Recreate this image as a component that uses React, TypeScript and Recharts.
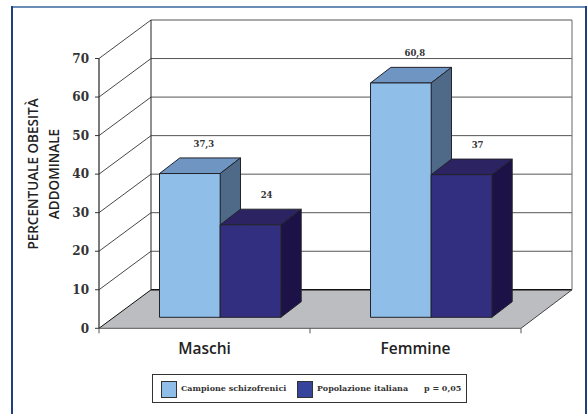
import { BarChart, Bar, XAxis, YAxis, CartesianGrid, LabelList } from 'recharts';

const categories = ['Maschi', 'Femmine'];
const campione = [37.3, 60.8];
const popolazione = [24, 37];
const yTicks = [0, 10, 20, 30, 40, 50, 60, 70];
const seriesNames = ['Campione schizofrenici', 'Popolazione italiana'];
const pNote = 'p = 0,05';

const data = categories.map((name, i) => ({ name, campione: campione[i], popolazione: popolazione[i] }));

const W = 588;
const H = 414;
const PLOT_LEFT = 99;
const PLOT_RIGHT = 521;
const PLOT_TOP = 58.5;
const PLOT_BOTTOM = 328.3;
const BAND = (PLOT_RIGHT - PLOT_LEFT) / 2;

// depth of the walls and floor
const WALL_DX = 52;
const WALL_DY = 38.5;
// depth of the boxes, and where they stand on the floor
const BOX_DX = 20.3;
const BOX_DY = 15.6;
const STAND_DX = 15.5;
const STAND_DY = 11;

const SERIF = '"DejaVu Serif", serif';
const SANS = '"Open Sans", sans-serif';

const LIGHT = { front: '#8fbee8', top: '#6f96c2', side: '#4f6a88' };
const DARK = { front: '#322e80', top: '#2b2362', side: '#1c1248' };

// each horizontal grid line becomes a side wall diagonal plus a back wall line
function wallLine(props: any) {
  const y = props.y1;
  const bx = PLOT_LEFT + WALL_DX;
  const by = y - WALL_DY;
  const rx = PLOT_RIGHT + WALL_DX - 1;
  if (Math.abs(y - PLOT_BOTTOM) < 1) {
    return (
      <g key={props.key}>
        <polygon points={`${PLOT_LEFT},${y} ${bx},${by} ${rx},${by} ${PLOT_RIGHT},${y}`} fill="#bcbdc0" />
        <line x1={PLOT_LEFT} y1={y} x2={bx} y2={by} stroke="#111" strokeWidth={1} />
        <line x1={bx} y1={by} x2={rx} y2={by} stroke="#111" strokeWidth={1.5} />
        <line x1={rx} y1={by} x2={PLOT_RIGHT} y2={y} stroke="#444" strokeWidth={1} />
        <line x1={PLOT_LEFT} y1={y} x2={PLOT_RIGHT} y2={y} stroke="#555" strokeWidth={1} />
      </g>
    );
  }
  return (
    <g key={props.key}>
      <line x1={PLOT_LEFT} y1={y} x2={bx} y2={by} stroke="#333" strokeWidth={0.9} />
      <line x1={bx} y1={by} x2={rx} y2={by} stroke="#555" strokeWidth={1} />
      <line x1={bx} y1={by} x2={bx} y2={y} stroke="#222" strokeWidth={1} />
      <line x1={rx} y1={by} x2={rx} y2={y} stroke="#666" strokeWidth={1} />
    </g>
  );
}

function box(colors: typeof LIGHT) {
  return (props: any) => {
    const { x, y, width, height } = props;
    const l = x + STAND_DX;
    const t = y - STAND_DY;
    const r = l + width;
    const b = t + height;
    const edge = { stroke: '#23232b', strokeWidth: 1, strokeLinejoin: 'round' as const };
    return (
      <g>
        <polygon points={`${l},${t} ${l + BOX_DX},${t - BOX_DY} ${r + BOX_DX},${t - BOX_DY} ${r},${t}`} fill={colors.top} {...edge} />
        <polygon points={`${r},${t} ${r + BOX_DX},${t - BOX_DY} ${r + BOX_DX},${b - BOX_DY} ${r},${b}`} fill={colors.side} {...edge} />
        <rect x={l} y={t} width={width} height={height} fill={colors.front} {...edge} />
      </g>
    );
  };
}

function valueLabel(dx: number) {
  return (props: any) => {
    const { x, y, width, value } = props;
    return (
      <text
        x={x + width / 2 + STAND_DX + dx}
        y={y - STAND_DY - 27}
        textAnchor="middle"
        fontFamily={SERIF}
        fontWeight={700}
        fontSize={8.5}
        fill="#333"
      >
        {String(value).replace('.', ',')}
      </text>
    );
  };
}

// ticks sit on the band edges, the name in the middle of the band
function categoryTick(props: any) {
  const { x, y, payload, index } = props;
  const left = x - BAND / 2;
  const right = x + BAND / 2;
  const axisY = PLOT_BOTTOM;
  return (
    <g>
      {index === 0 && <line x1={left} y1={axisY} x2={left} y2={axisY + 5} stroke="#555" />}
      <line x1={right} y1={axisY} x2={right} y2={axisY + 5} stroke="#555" />
      <text x={x} y={y + 18} textAnchor="middle" fontFamily={SANS} fontWeight={600} fontSize={15.5} fill="#222">
        {payload.value}
      </text>
    </g>
  );
}

function LegendBox() {
  const text = { fontFamily: SERIF, fontWeight: 700, fontSize: 8, color: '#333', position: 'absolute' as const, top: 8, whiteSpace: 'nowrap' as const };
  const swatch = { position: 'absolute' as const, top: 6, width: 14, height: 15, border: '1px solid #333', boxSizing: 'content-box' as const };
  return (
    <div style={{ position: 'absolute', left: 152, top: 374, width: 315, height: 29, border: '1px solid #333', background: '#fff', boxSizing: 'border-box' }}>
      <div style={{ ...swatch, left: 8, background: '#8fbee8' }} />
      <div style={{ ...text, left: 28 }}>{seriesNames[0]}</div>
      <div style={{ ...swatch, left: 144, background: '#36459b' }} />
      <div style={{ ...text, left: 164 }}>{seriesNames[1]}</div>
      <div style={{ ...text, left: 271 }}>{pNote}</div>
    </div>
  );
}

export default function App() {
  return (
    <div style={{ position: 'absolute', left: 0, top: 0, width: W, height: H, background: '#fff', overflow: 'hidden' }}>
      {/* page frame, open at the bottom */}
      <div style={{ position: 'absolute', left: 11, top: 6, width: 575, height: 2, background: '#6a8db5' }} />
      <div style={{ position: 'absolute', left: 11, top: 6, width: 2, height: H, background: '#1f3f7f' }} />
      <div style={{ position: 'absolute', left: 585, top: 6, width: 2, height: H, background: '#1f3f7f' }} />
      <div style={{ position: 'absolute', left: 0, top: 0 }}>
        <BarChart
          width={W}
          height={H}
          data={data}
          barSize={60.7}
          barGap={0}
          margin={{ top: PLOT_TOP, right: W - PLOT_RIGHT, bottom: 0, left: 0 }}
        >
          <CartesianGrid vertical={false} horizontal={wallLine} />
          <XAxis
            dataKey="name"
            height={H - PLOT_BOTTOM}
            axisLine={false}
            tickLine={false}
            interval={0}
            tick={categoryTick}
          />
          <YAxis
            width={PLOT_LEFT}
            domain={[0, 70]}
            ticks={yTicks}
            interval={0}
            axisLine={{ stroke: '#222', strokeWidth: 1.2 }}
            tickLine={{ stroke: '#333' }}
            tickSize={4}
            tickMargin={6}
            tick={{ fontFamily: SERIF, fontWeight: 700, fontSize: 12, fill: '#333' }}
          />
          <Bar dataKey="campione" isAnimationActive={false} shape={box(LIGHT)}>
            <LabelList dataKey="campione" content={valueLabel(14)} />
          </Bar>
          <Bar dataKey="popolazione" isAnimationActive={false} shape={box(DARK)}>
            <LabelList dataKey="popolazione" content={valueLabel(16)} />
          </Bar>
          <text
            transform="translate(38 174) rotate(-90)"
            textAnchor="middle"
            fontFamily={SANS}
            fontWeight={600}
            fontSize={13.5}
            fill="#222"
          >
            <tspan x={0} y={0}>PERCENTUALE OBESITÀ</tspan>
            <tspan x={0} y={21}>ADDOMINALE</tspan>
          </text>
        </BarChart>
      </div>
      <LegendBox />
    </div>
  );
}
